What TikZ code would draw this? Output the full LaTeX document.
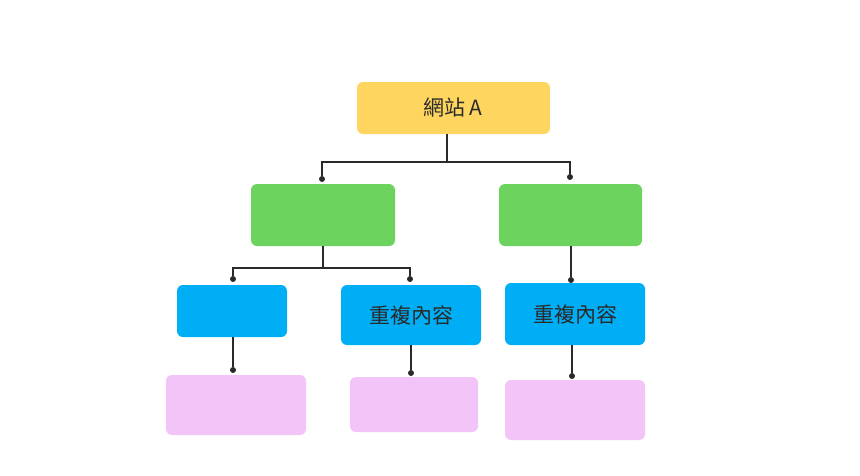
\documentclass[tikz,border=0pt]{standalone}
\usepackage{fontspec}
\newfontfamily\cjk{Noto Sans CJK TC}
\definecolor{cy}{HTML}{FDD55F}
\definecolor{cg}{HTML}{6CD35F}
\definecolor{cb}{HTML}{00AEF5}
\definecolor{cp}{HTML}{F2C4F7}
\definecolor{ln}{HTML}{2A2A2A}
\tikzset{
 bx/.style={rounded corners=5pt,inner sep=0pt,font=\cjk\fontsize{21}{24}\selectfont,text=ln},
 wire/.style={draw=ln,line width=1.6pt},
 dot/.style={circle,fill=ln,inner sep=0pt,minimum size=6pt}
}
\begin{document}
\begin{tikzpicture}[x=1pt,y=-1pt]
\useasboundingbox (0,0) rectangle (860,475);
\fill[cy,rounded corners=6pt] (357,82) rectangle (550,134);
\node[bx] (a) at (453,108) {網站 A};
\fill[cg,rounded corners=6pt] (251,184) rectangle (395,246);
\coordinate (g1) at (323,246);
\fill[cg,rounded corners=6pt] (499,184) rectangle (642,246);
\coordinate (g2) at (571,246);
\fill[cb,rounded corners=6pt] (177,285) rectangle (287,337);
\coordinate (b1) at (233,337);
\fill[cb,rounded corners=6pt] (341,285) rectangle (481,345);
\node[bx] (b2t) at (411,315) {重複內容};
\coordinate (b2) at (411,345);
\fill[cb,rounded corners=6pt] (505,283) rectangle (645,345);
\node[bx] (b3t) at (575,314) {重複內容};
\coordinate (b3) at (572,345);
\fill[cp,rounded corners=6pt] (166,375) rectangle (306,435);
\fill[cp,rounded corners=6pt] (350,377) rectangle (478,432);
\fill[cp,rounded corners=6pt] (505,380) rectangle (645,440);
\coordinate (ab) at (447,134);
\node[dot] (d1) at (322,179) {};
\node[dot] (d2) at (570,177) {};
\draw[wire] (ab) -- (447,162) -| (d1);
\draw[wire] (447,162) -| (d2);
\node[dot] (d3) at (233,279) {};
\node[dot] (d4) at (410,279) {};
\node[dot] (d5) at (571,280) {};
\draw[wire] (g1) -- (323,268) -| (d3);
\draw[wire] (323,268) -| (d4);
\draw[wire] (g2) -- (d5);
\node[dot] (d6) at (233,370) {};
\node[dot] (d7) at (411,373) {};
\node[dot] (d8) at (572,376) {};
\draw[wire] (b1) -- (d6);
\draw[wire] (b2) -- (d7);
\draw[wire] (b3) -- (d8);
\end{tikzpicture}
\end{document}
